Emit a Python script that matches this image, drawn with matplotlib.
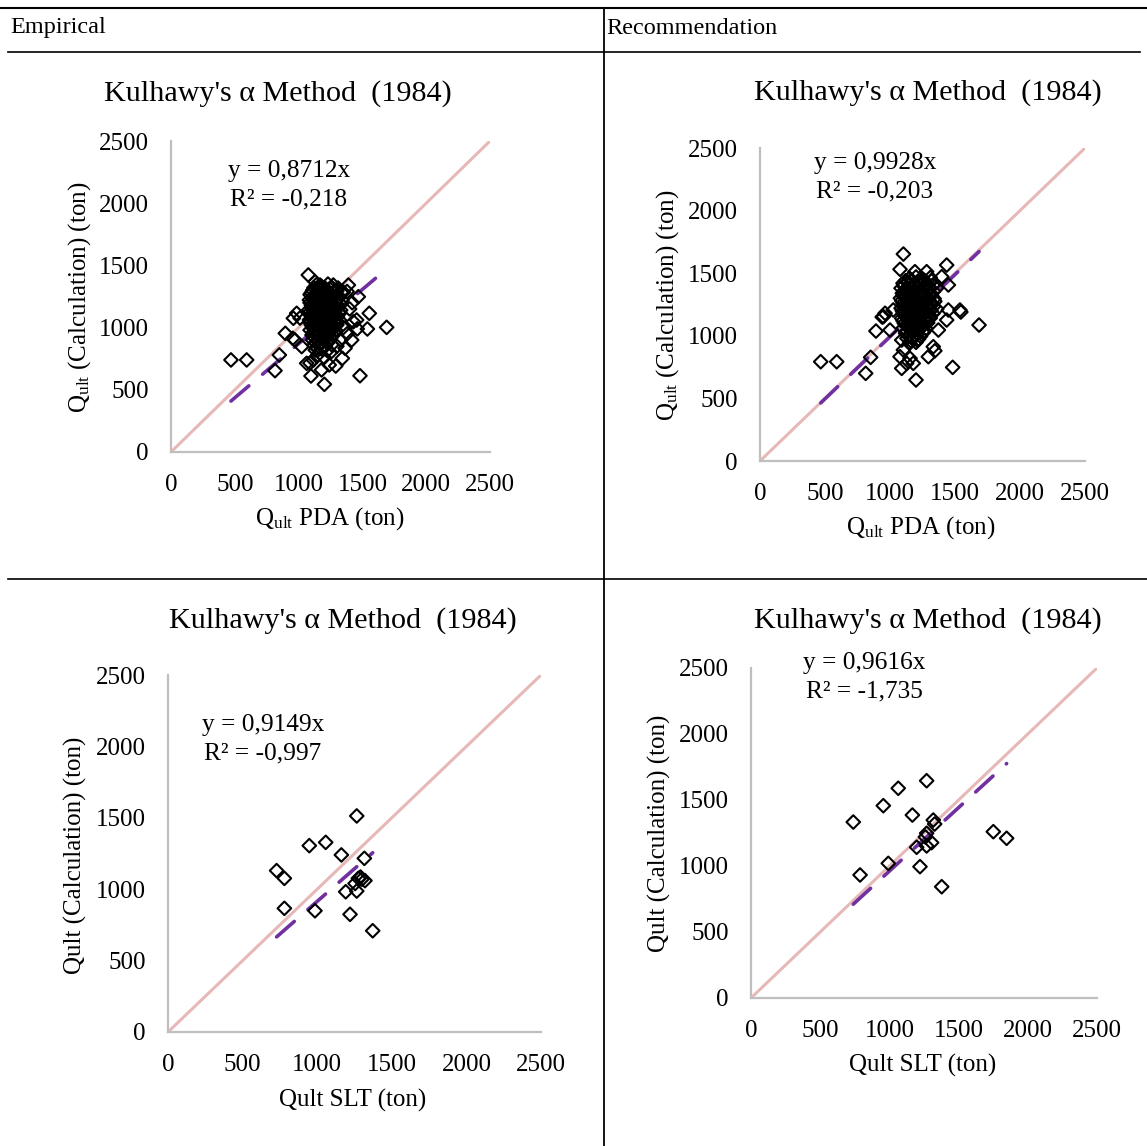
import matplotlib
matplotlib.use('Agg')
import matplotlib.pyplot as plt
from matplotlib.lines import Line2D

plt.rcParams['font.family'] = ['Liberation Serif', 'DejaVu Serif']
plt.rcParams['mathtext.fontset'] = 'custom'
plt.rcParams['mathtext.rm'] = 'Liberation Serif'
plt.rcParams['mathtext.it'] = 'Liberation Serif:italic'

W, H = 1147, 1146

# ---- data (ton) ----
# top-left: Qult PDA vs Qult calculation (empirical)
pda_emp = [470, 593, 849, 815, 896, 954, 959, 1011, 1024, 1076, 1129, 1097, 1202, 1291,
           1343, 1481, 1554, 1539, 1690, 1390, 1468, 1429, 1460, 1089, 985, 972, 1063,
           1116, 1364, 1416, 1455, 1272, 1168, 1380, 1420, 1400, 1350, 1380, 1330, 1300,
           1250, 1200, 1150, 1240, 1180,
           1140, 1180, 1230,
           1110, 1160, 1200, 1250, 1300, 1350,
           1090, 1130, 1175, 1215, 1265, 1320,
           1085, 1120, 1155, 1195, 1240, 1290, 1340,
           1100, 1140, 1170, 1210, 1255, 1300,
           1080, 1115, 1150, 1190, 1230, 1275, 1330,
           1095, 1130, 1165, 1205, 1250, 1295,
           1085, 1120, 1160, 1195, 1240, 1285, 1320,
           1100, 1140, 1175, 1215, 1260, 1300,
           1090, 1125, 1165, 1210, 1250, 1290,
           1105, 1145, 1185, 1230, 1270,
           1110, 1150, 1195, 1240,
           1120, 1165, 1210, 1260,
           1130, 1180, 1225,
           1120, 1165, 1210, 1260, 1310,
           1100, 1150, 1190, 1235, 1285, 1335,
           1105, 1140, 1180, 1225, 1270, 1310,
           1090, 1130, 1165, 1200, 1245, 1285, 1325,
           1100, 1135, 1170, 1210, 1255, 1305,
           1085, 1120, 1155, 1195, 1235, 1280, 1320,
           1105, 1145, 1180, 1220, 1265, 1305,
           1090, 1130, 1170, 1205, 1250, 1290,
           1110, 1150, 1190, 1235, 1275,
           1115, 1155, 1195, 1240, 1280,
           1125, 1170, 1215, 1255,
           1135, 1180, 1225,
           1145, 1195]
calc_emp = [740, 740, 780, 654, 954, 914, 1075, 1077, 847, 1423, 1369, 611, 544, 691,
            753, 613, 1115, 989, 1002, 1342, 1248, 1047, 990, 715, 1115, 900, 713,
            740, 834, 900, 1061, 1342, 1342, 1290, 1200, 1150, 1000, 950, 900, 850,
            800, 760, 780, 700, 660,
            1345, 1330, 1350,
            1300, 1310, 1290, 1305, 1295, 1285,
            1265, 1255, 1270, 1250, 1262, 1248,
            1222, 1215, 1230, 1210, 1225, 1212, 1220,
            1180, 1190, 1172, 1185, 1176, 1188,
            1142, 1135, 1150, 1130, 1145, 1138, 1140,
            1100, 1110, 1095, 1105, 1092, 1104,
            1062, 1055, 1068, 1050, 1064, 1058, 1060,
            1020, 1028, 1012, 1025, 1015, 1022,
            980, 975, 988, 972, 985, 978,
            940, 948, 932, 945, 938,
            900, 892, 905, 895,
            860, 868, 852, 862,
            820, 828, 815,
            1320, 1325, 1315, 1322, 1318,
            1280, 1285, 1276, 1282, 1278, 1284,
            1240, 1236, 1244, 1238, 1242, 1235,
            1200, 1205, 1196, 1202, 1198, 1204, 1195,
            1160, 1156, 1164, 1158, 1162, 1155,
            1120, 1124, 1116, 1122, 1118, 1125, 1115,
            1080, 1085, 1076, 1082, 1078, 1084,
            1040, 1036, 1044, 1038, 1042, 1035,
            1000, 1005, 996, 1002, 998,
            960, 964, 956, 962, 958,
            920, 925, 916, 922,
            880, 884, 876,
            840, 845]

# top-right: Qult PDA vs Qult calculation (recommendation)
pda_rec = [467, 590, 851, 813, 892, 949, 1000, 1103, 1077, 1436, 1538, 1685, 1372, 1482,
           1200, 1090, 1077, 1128, 1295, 1333, 1282, 1192, 1398, 1449, 1449, 1436, 962,
           940, 1025, 1090, 1103, 1154, 1179, 1345, 1545,
           1150, 1200, 1250, 1310,
           1100, 1140, 1185, 1230, 1280, 1340,
           1085, 1125, 1165, 1210, 1255, 1300, 1360,
           1095, 1135, 1175, 1220, 1265, 1310,
           1080, 1120, 1160, 1200, 1245, 1290, 1340,
           1100, 1140, 1180, 1225, 1270, 1320,
           1085, 1125, 1165, 1205, 1250, 1300, 1360,
           1100, 1145, 1185, 1230, 1280, 1330,
           1090, 1130, 1170, 1215, 1260, 1310,
           1110, 1150, 1195, 1240, 1290,
           1100, 1140, 1185, 1230, 1275,
           1120, 1165, 1210, 1255,
           1130, 1175, 1220,
           1150, 1200,
           1120, 1165, 1215, 1265, 1320,
           1105, 1145, 1190, 1235, 1285, 1330,
           1110, 1150, 1195, 1240, 1285, 1335,
           1100, 1140, 1180, 1225, 1270, 1320,
           1090, 1130, 1170, 1210, 1255, 1300, 1345,
           1110, 1150, 1195, 1240, 1285, 1335,
           1095, 1135, 1175, 1220, 1265, 1315,
           1115, 1160, 1200, 1245, 1295,
           1100, 1140, 1180, 1225, 1270,
           1125, 1165, 1210, 1255,
           1130, 1175, 1220, 1265,
           1145, 1190, 1235,
           1160, 1210]
calc_rec = [793, 793, 828, 700, 1038, 1153, 1046, 1653, 1531, 1565, 1206, 1086, 1046, 748,
            647, 740, 833, 780, 833, 913, 1512, 1512, 1472, 1406, 1206, 1126, 1180,
            1150, 1206, 966, 887, 820, 780, 880, 1190,
            1460, 1470, 1455, 1465,
            1420, 1428, 1415, 1425, 1418, 1412,
            1380, 1372, 1388, 1375, 1385, 1378, 1382,
            1340, 1348, 1335, 1345, 1338, 1342,
            1300, 1308, 1295, 1305, 1298, 1302, 1296,
            1260, 1252, 1268, 1255, 1265, 1258,
            1220, 1228, 1215, 1225, 1218, 1222, 1214,
            1180, 1172, 1188, 1175, 1185, 1178,
            1140, 1148, 1135, 1145, 1138, 1142,
            1100, 1092, 1108, 1095, 1104,
            1060, 1068, 1055, 1065, 1058,
            1020, 1028, 1015, 1025,
            980, 988, 975,
            940, 948,
            1440, 1445, 1436, 1442, 1438,
            1400, 1404, 1396, 1402, 1398, 1405,
            1360, 1356, 1364, 1358, 1362, 1355,
            1320, 1325, 1316, 1322, 1318, 1324,
            1280, 1284, 1276, 1282, 1278, 1285, 1275,
            1240, 1236, 1244, 1238, 1242, 1235,
            1200, 1205, 1196, 1202, 1198, 1204,
            1160, 1156, 1164, 1158, 1162,
            1120, 1124, 1116, 1122, 1118,
            1080, 1085, 1076, 1082,
            1040, 1036, 1044, 1038,
            1000, 1005, 996,
            960, 965]

# bottom-left: Qult SLT vs Qult calculation (empirical)
slt_emp = [1265, 947, 1057, 1162, 1316, 728, 780, 780, 985, 1191, 1265, 1276, 1300,
           1320, 1254, 1220, 1372, 1290]
calc_slt_emp = [1513, 1305, 1328, 1240, 1216, 1130, 1076, 866, 849, 982, 987, 1076, 1070,
                1060, 1040, 824, 709, 1085]

# bottom-right: Qult SLT vs Qult calculation (recommendation)
slt_rec = [1269, 1064, 956, 739, 1166, 1317, 1327, 1269, 1305, 1269, 1197, 1260, 1751,
           1847, 992, 1221, 788, 1378]
calc_slt_rec = [1646, 1589, 1457, 1333, 1386, 1348, 1318, 1248, 1177, 1152, 1142, 1220,
                1260, 1210, 1020, 995, 932, 843]

slopes = [0.8712, 0.9928, 0.9149, 0.9616]
r2 = ['-0,218', '-0,203', '-0,997', '-1,735']
title = "Kulhawy's \u03b1 Method  (1984)"
xlabels = [r'$\mathrm{Q_{ult}}$ PDA (ton)', r'$\mathrm{Q_{ult}}$ PDA (ton)',
           'Qult SLT (ton)', 'Qult SLT (ton)']
ylabels = [r'$\mathrm{Q_{ult}}$ (Calculation) (ton)', r'$\mathrm{Q_{ult}}$ (Calculation) (ton)',
           'Qult (Calculation) (ton)', 'Qult (Calculation) (ton)']
xs = [pda_emp, pda_rec, slt_emp, slt_rec]
ys = [calc_emp, calc_rec, calc_slt_emp, calc_slt_rec]
ticks = [0, 500, 1000, 1500, 2000, 2500]

# ---- layout in pixels: axes (l, t, r, b), title, ylabel, xlabel, equation centre ----
boxes = [(171, 141, 490, 452), (760, 148, 1085, 461), (168, 675, 541, 1032), (751, 668, 1097, 998)]
title_pos = [(278, 94), (928, 93), (343, 621), (928, 621)]
ylab_pos = [(80, 297), (668, 305), (75, 855), (659, 833)]
xlab_pos = [(330, 519), (921, 528), (353, 1100), (923, 1065)]
eq_pos = [(289, 171), (875, 163), (263, 725), (864, 663)]


def fx(x):
    return x / W


def fy(y):
    return 1 - y / H


fig = plt.figure(figsize=(W / 100, H / 100), dpi=100)

for i in range(4):
    l, t, r, b = boxes[i]
    ax = fig.add_axes([fx(l), fy(b), (r - l) / W, (b - t) / H])
    ax.plot([0, 2500], [0, 2500], color='#E6B9B8', lw=2.2, zorder=1)
    ax.scatter(xs[i], ys[i], marker='D', s=48, facecolors='none', edgecolors='black',
               linewidths=1.5, zorder=3)
    x0, x1 = min(xs[i]), max(xs[i])
    ax.plot([x0, x1], [slopes[i] * x0, slopes[i] * x1], color='#7030A0', lw=2.6,
            dashes=(6.5, 5), dash_capstyle='round', zorder=2)
    ax.set_xlim(0, 2500)
    ax.set_ylim(0, 2500)
    ax.set_xticks(ticks)
    ax.set_yticks(ticks)
    ax.tick_params(length=0, labelsize=18)
    ax.tick_params(axis='y', pad=16)
    ax.tick_params(axis='x', pad=15.5)
    for s in ['top', 'right']:
        ax.spines[s].set_visible(False)
    for s in ['left', 'bottom']:
        ax.spines[s].set_color('#BFBFBF')
        ax.spines[s].set_linewidth(1.6)
    ax.patch.set_alpha(0)

    fig.text(fx(title_pos[i][0]), fy(title_pos[i][1]), title, fontsize=21.7,
             ha='center', va='center')
    fig.text(fx(ylab_pos[i][0]), fy(ylab_pos[i][1]), ylabels[i], fontsize=18,
             ha='center', va='center', rotation=90)
    fig.text(fx(xlab_pos[i][0]), fy(xlab_pos[i][1]), xlabels[i], fontsize=18,
             ha='center', va='center')
    ex, ey = eq_pos[i]
    fig.text(fx(ex), fy(ey), 'y = ' + ('%.4f' % slopes[i]).replace('.', ',') + 'x',
             fontsize=18.3, ha='center', va='center')
    fig.text(fx(ex), fy(ey + 28), 'R\u00b2 = ' + r2[i], fontsize=18.3,
             ha='center', va='center')

# table rules and header
fig.add_artist(Line2D([0, 1], [fy(8), fy(8)], color='black', lw=1.5))
fig.add_artist(Line2D([fx(8), fx(1140)], [fy(52), fy(52)], color='black', lw=1.2))
fig.add_artist(Line2D([fx(8), 1], [fy(579), fy(579)], color='black', lw=1.2))
fig.add_artist(Line2D([fx(604), fx(604)], [fy(8), 0], color='black', lw=1.3))
fig.text(fx(10), fy(28), 'Empirical', fontsize=17.5, ha='left', va='center')
fig.text(fx(606), fy(28), 'Recommendation', fontsize=17.5, ha='left', va='center')

fig.savefig('out.png', dpi=100)
